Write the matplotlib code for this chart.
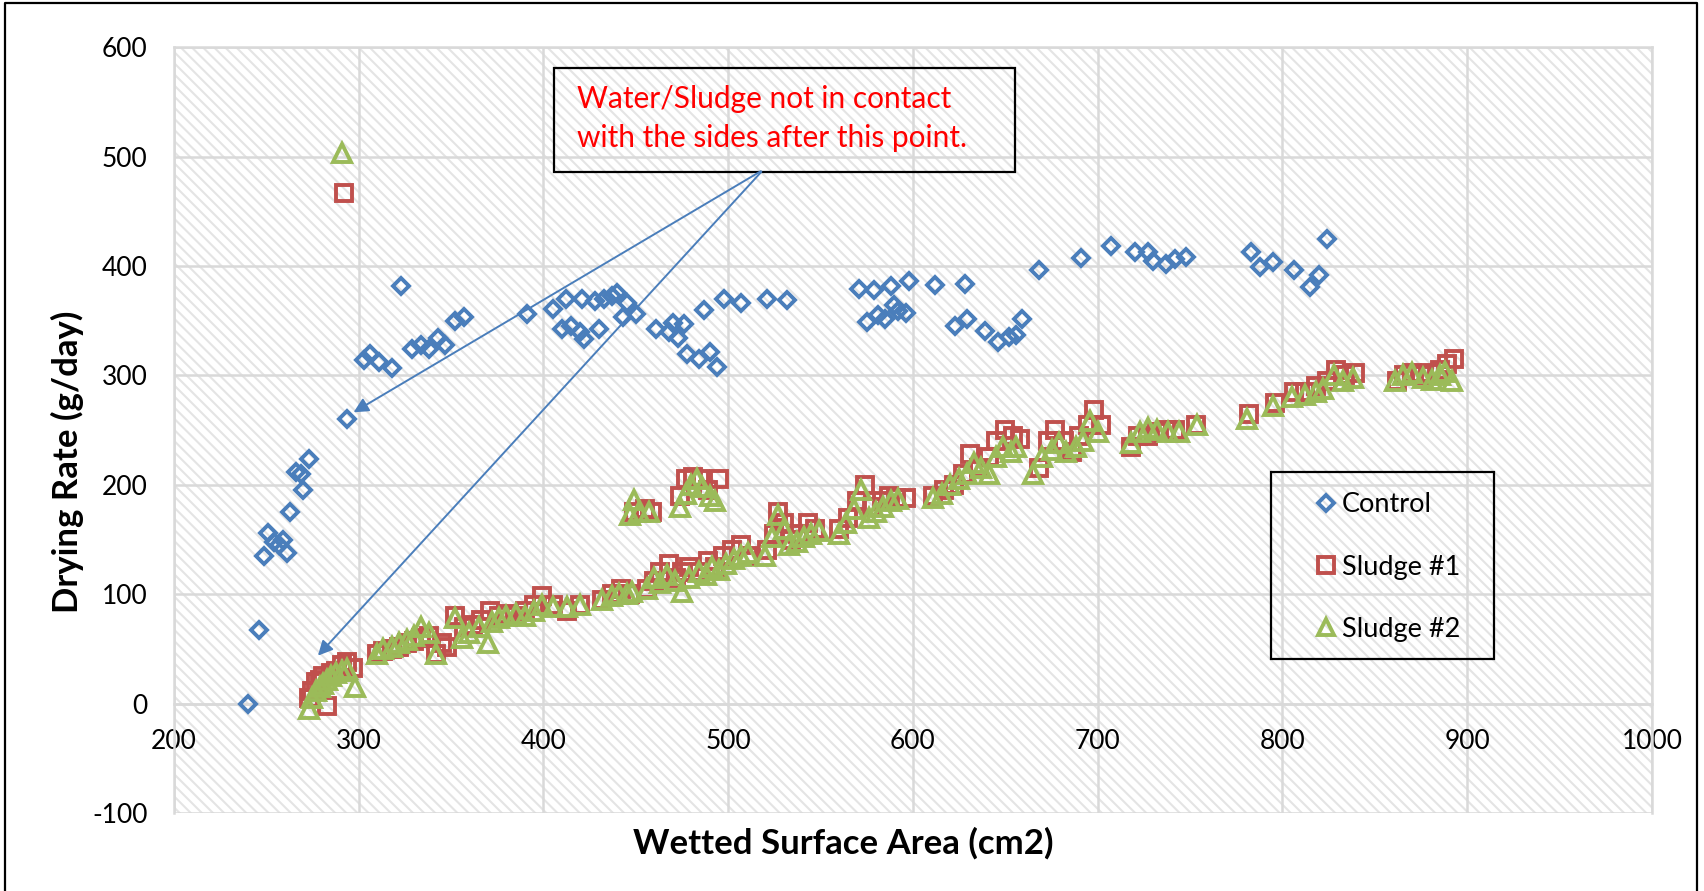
import matplotlib.pyplot as plt
from matplotlib.patches import Rectangle
from matplotlib.lines import Line2D

plt.rcParams['font.family'] = ['Lato', 'DejaVu Sans']
plt.rcParams['hatch.linewidth'] = 1.5
plt.rcParams['axes.unicode_minus'] = False

# Control series
control_x = [240, 246, 249, 251, 254, 257, 259, 261, 263, 266, 269, 270, 273, 294,
             303, 306, 311, 318, 323, 329, 334, 338, 343, 347, 352, 357, 391, 405,
             410, 412, 415, 420, 421, 422, 428, 430, 433, 437, 440, 443, 445, 450,
             461, 468, 470, 473, 476, 478, 484, 487, 490, 494, 498, 507, 521, 532,
             571, 575, 579, 581, 585, 588, 590, 592, 596, 598, 612, 623, 628, 629,
             639, 646, 652, 656, 659, 668, 691, 707, 720, 727, 730, 737, 742, 748,
             783, 788, 795, 806, 815, 820, 824]
control_y = [0, 67, 135, 156, 148, 145, 150, 138, 175, 212, 210, 195, 224, 260,
             314, 320, 312, 307, 382, 324, 328, 324, 334, 328, 350, 353, 356, 361,
             342, 370, 345, 340, 370, 333, 368, 342, 370, 373, 375, 353, 366, 356,
             342, 340, 348, 334, 347, 320, 315, 360, 321, 308, 370, 366, 370, 369,
             379, 349, 378, 355, 352, 382, 364, 359, 357, 386, 383, 345, 384, 352,
             341, 331, 335, 337, 352, 396, 407, 418, 413, 413, 405, 402, 406, 408,
             413, 399, 404, 396, 381, 392, 425]

# Sludge #1 series
sludge1_x = [273, 275, 277, 279, 281, 283, 285, 288, 291, 294, 297, 292,
             310, 313, 318, 322, 326, 330, 334, 338, 342, 345, 348, 352, 357, 362,
             366, 371, 376, 380, 385, 390, 395, 399, 405, 413, 420, 432, 437, 442, 447,
             449, 455, 459, 474, 477, 481, 485, 489, 495,
             456, 460, 463, 468, 472, 475, 479, 484, 489, 493, 497, 502, 507, 511,
             521, 525, 527, 530, 534, 538, 543, 547,
             560, 565, 570, 574, 578, 583, 587, 591, 596,
             611, 617, 622, 627, 631, 636, 641, 645, 650, 654, 658,
             668, 673, 677, 682, 686, 690, 695, 698, 702,
             718, 722, 727, 732, 737, 742, 753,
             782, 796, 806, 812, 818, 824, 829, 834, 839,
             862, 866, 870, 875, 880, 885, 889, 893]
sludge1_y = [5, 12, 20, 22, 25, -2, 28, 30, 35, 38, 33, 467,
             45, 48, 50, 52, 55, 57, 60, 62, 45, 55, 52, 80, 70, 72,
             76, 85, 80, 82, 80, 85, 90, 98, 90, 85, 90, 95, 100, 105, 100,
             175, 178, 175, 190, 205, 207, 205, 195, 205,
             105, 112, 120, 128, 115, 120, 125, 120, 130, 125, 135, 140, 145, 135,
             140, 155, 175, 165, 150, 155, 165, 160,
             160, 170, 185, 200, 180, 185, 190, 188, 188,
             190, 195, 200, 210, 228, 215, 225, 240, 250, 245, 242,
             215, 240, 250, 240, 230, 245, 255, 268, 255,
             235, 245, 245, 248, 250, 250, 255,
             265, 275, 285, 285, 290, 295, 305, 300, 302,
             295, 300, 302, 300, 302, 305, 310, 315]

# Sludge #2 series
sludge2_x = [273, 275, 277, 279, 281, 283, 285, 288, 291, 294, 298, 291,
             310, 313, 318, 322, 326, 330, 334, 338, 342, 352, 356, 360, 365, 370,
             372, 376, 380, 385, 390, 395, 399, 405, 413, 420, 432, 437, 441, 445, 448,
             447, 449, 452, 457, 474, 477, 480, 483, 486, 490, 493,
             456, 460, 463, 467, 471, 475, 479, 484, 488, 491, 495, 499, 503, 507, 511,
             520, 524, 527, 530, 533, 537, 541, 545, 549,
             560, 564, 568, 572, 576, 580, 584, 588, 592,
             611, 616, 620, 625, 629, 633, 637, 641, 645, 649, 653, 656,
             665, 670, 675, 679, 683, 688, 692, 696, 700,
             718, 723, 727, 732, 738, 744, 754,
             781, 795, 805, 812, 818, 822, 828, 833, 838,
             861, 865, 870, 876, 881, 885, 888, 892]
sludge2_y = [-5, 5, 12, 15, 18, 22, 25, 28, 30, 32, 15, 503,
             45, 50, 52, 55, 58, 62, 70, 65, 45, 78, 60, 65, 70, 55,
             75, 78, 80, 82, 80, 85, 90, 88, 88, 90, 95, 98, 100, 100, 102,
             172, 186, 175, 175, 180, 192, 200, 205, 198, 190, 185,
             105, 115, 110, 118, 112, 102, 115, 120, 118, 125, 122, 128, 132, 135, 138,
             135, 152, 172, 160, 145, 148, 152, 155, 158,
             155, 165, 178, 195, 170, 175, 180, 185, 187,
             188, 192, 200, 205, 210, 220, 215, 210, 225, 235, 230, 235,
             210, 225, 232, 238, 230, 235, 240, 258, 248,
             238, 248, 252, 250, 248, 248, 255,
             260, 272, 280, 282, 285, 288, 300, 295, 298,
             295, 300, 302, 298, 296, 300, 303, 295]

x_ticks = [200, 300, 400, 500, 600, 700, 800, 900, 1000]
y_ticks = [-100, 0, 100, 200, 300, 400, 500, 600]

blue = '#4a7ebb'
red = '#c0504d'
green = '#9bbb59'
grid_col = '#d9d9d9'

fig = plt.figure(figsize=(17.04, 8.91), dpi=100)
ax = fig.add_axes([0.102, 0.0875, 0.8675, 0.8595])

# hatched plot area
ax.add_patch(Rectangle((0, 0), 1, 1, transform=ax.transAxes, facecolor='white',
                       edgecolor='#e4e4e4', hatch='\\\\\\', lw=0, zorder=0.1))

ax.plot(control_x, control_y, linestyle='none', marker='D', ms=8.5, mfc='none',
        mec=blue, mew=2.8, label='Control', zorder=3)
ax.plot(sludge1_x, sludge1_y, linestyle='none', marker='s', ms=12, mfc='none',
        mec=red, mew=2.8, label='Sludge #1', zorder=3)
ax.plot(sludge2_x, sludge2_y, linestyle='none', marker='^', ms=12.5, mfc='none',
        mec=green, mew=2.8, label='Sludge #2', zorder=4)

ax.set_xlim(200, 1000)
ax.set_ylim(-100, 600)
ax.set_xticks(x_ticks)
ax.set_yticks(y_ticks)
ax.set_axisbelow(True)
ax.grid(True, color=grid_col, lw=1.8)
ax.tick_params(length=0, labelsize=19, colors='black')
ax.tick_params(axis='y', pad=19)
ax.tick_params(axis='x', pad=18)
for s in ax.spines.values():
    s.set_color(grid_col)
    s.set_linewidth(1.8)
ax.spines['bottom'].set_position(('data', 0))

ax.set_ylabel('Drying Rate (g/day)', fontsize=25, fontweight='bold')
ax.yaxis.label.set_va('center')
ax.yaxis.set_label_coords(-0.0717, 0.458)
ax.set_xlabel('Wetted Surface Area (cm2)', fontsize=25, fontweight='bold')
ax.xaxis.label.set_va('center')
ax.xaxis.set_label_coords(0.4526, -0.04)

# annotation box and arrows
ax.add_patch(Rectangle((406, 486), 249, 95, facecolor='none', edgecolor='black',
                       lw=1.6, zorder=5))
ax.text(418, 535, 'Water/Sludge not in contact\nwith the sides after this point.',
        color='red', fontsize=21.5, va='center', ha='left', linespacing=1.45, zorder=6)
ax.annotate('', xy=(296, 265), xytext=(519, 488),
            arrowprops=dict(arrowstyle='-|>', color=blue, lw=1.4, mutation_scale=22),
            zorder=6)
ax.annotate('', xy=(277, 42), xytext=(519, 488),
            arrowprops=dict(arrowstyle='-|>', color=blue, lw=1.4, mutation_scale=22),
            zorder=6)

# legend, frame drawn separately
ax.add_patch(Rectangle((0.742, 0.201), 0.151, 0.244, transform=ax.transAxes,
                       facecolor='none', edgecolor='black', lw=1.6, zorder=7))
leg = ax.legend(loc='upper left', bbox_to_anchor=(0.772, 0.4186), frameon=False,
                fontsize=19.5, labelspacing=1.37, handlelength=0.8,
                handletextpad=0.2, borderpad=0, borderaxespad=0, markerscale=0.95)
leg.set_zorder(7)

# outer chart border
fig.add_artist(Line2D([0.003, 0.003, 0.996, 0.996], [0.0, 0.997, 0.997, 0.0],
                      transform=fig.transFigure, color='black', lw=1.6))

fig.savefig('out.png', dpi=100)
